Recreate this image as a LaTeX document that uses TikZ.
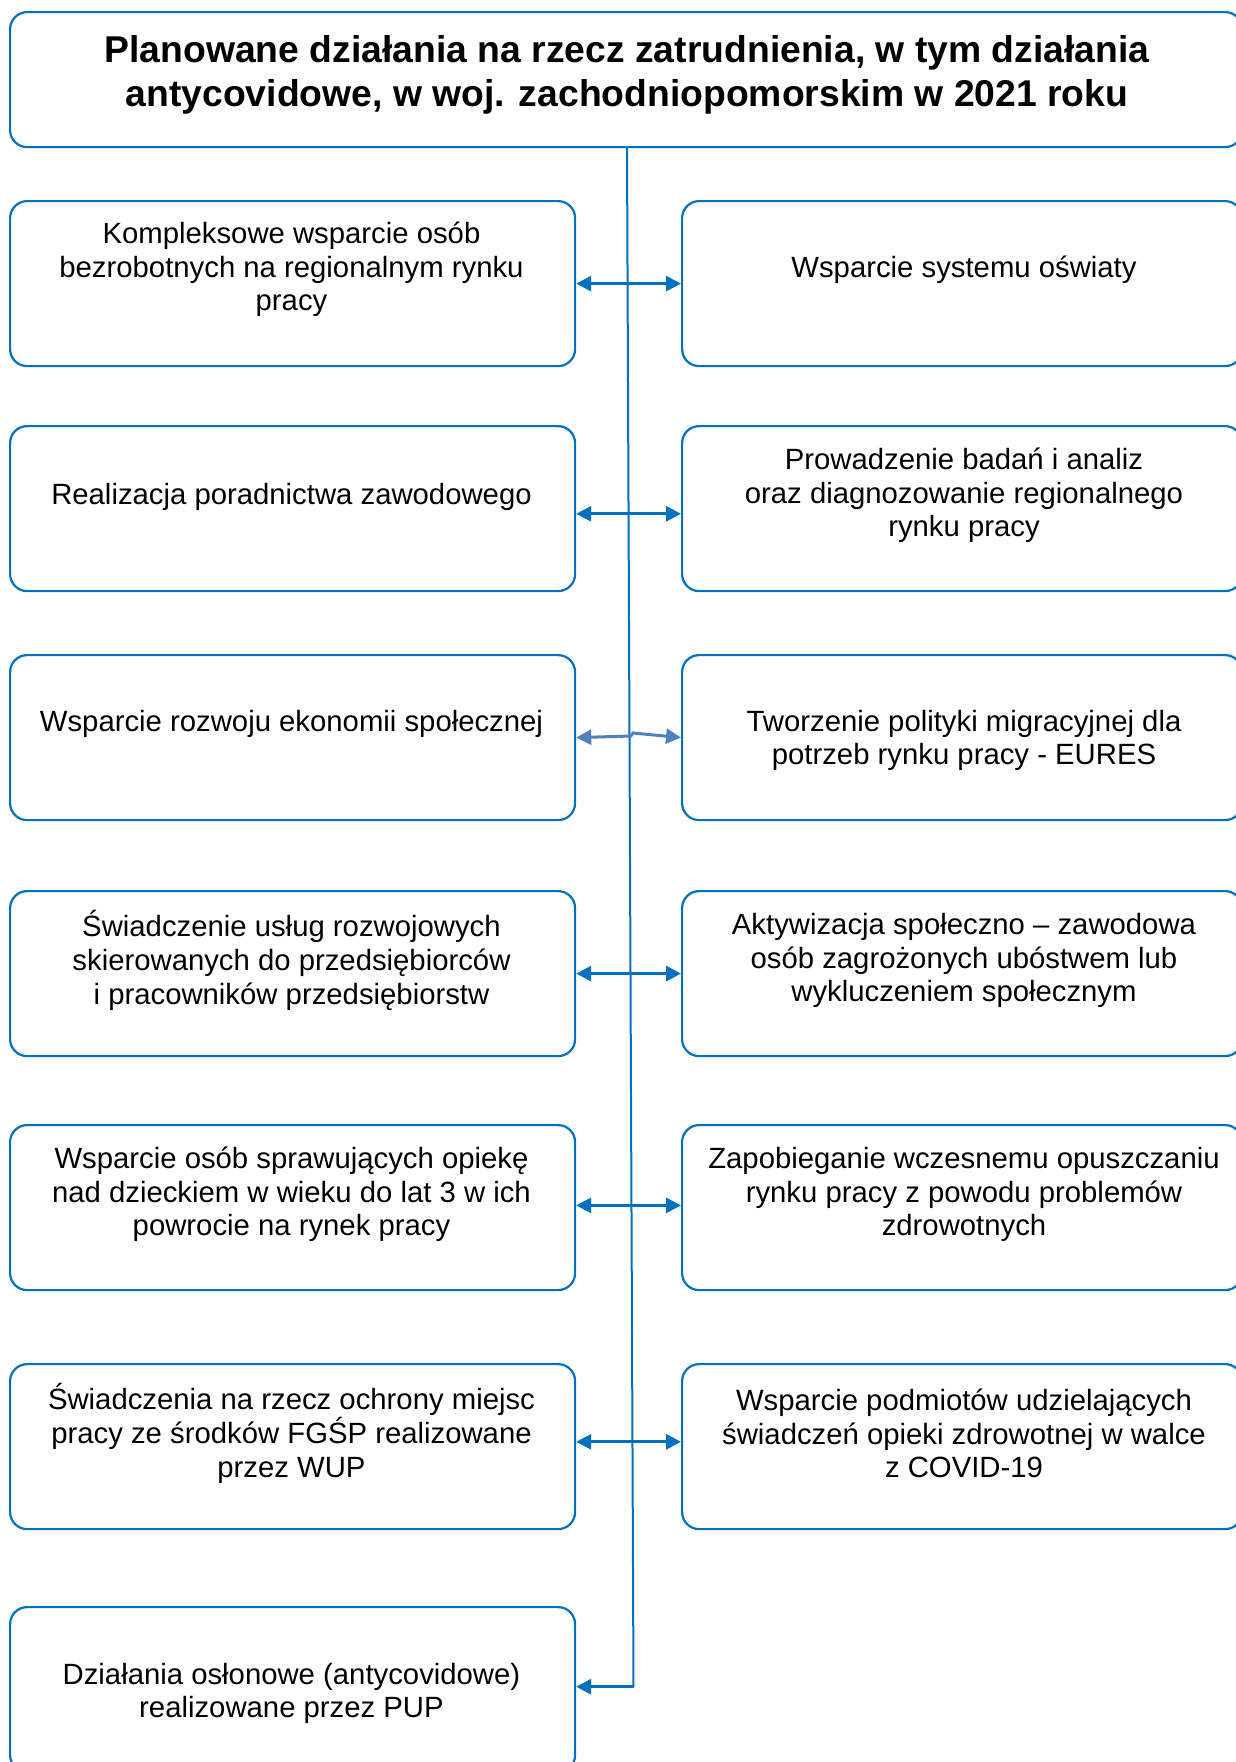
\documentclass[tikz,border=0pt]{standalone}
\usepackage{fontspec}
\setmainfont{Liberation Sans}
\usetikzlibrary{arrows.meta}
\definecolor{bord}{HTML}{0070C0}
\definecolor{lightarr}{HTML}{4F81BD}
\begin{document}
\begin{tikzpicture}[x=1pt,y=-1pt,
  box/.style={draw=bord, line width=2.2pt, rounded corners=17pt, rectangle,
    anchor=north west, inner sep=0pt, minimum height=165pt},
  lbox/.style={box, minimum width=565pt},
  rbox/.style={box, minimum width=560pt},
  txt/.style={align=center, inner sep=0pt, font=\fontsize{29.3}{33.7}\selectfont},
  ttl/.style={align=center, inner sep=0pt, font=\fontsize{37.3}{44}\selectfont\bfseries},
  arr/.style={draw=bord, line width=3pt, {Triangle[length=15pt,width=15pt]}-{Triangle[length=15pt,width=15pt]}},
  arrL/.style={draw=lightarr, line width=3pt, {Triangle[length=15pt,width=15pt]}-{Triangle[length=15pt,width=15pt]}},
  spine/.style={draw=bord, line width=2pt}
]
\useasboundingbox (0,0) rectangle (1235,1762);

% title
\node[box, minimum width=1232pt, minimum height=135pt] (title) at (9,11) {};
\node[ttl] (titletxt) at (627,74.5) {Planowane działania na rzecz zatrudnienia, w tym działania\\antycovidowe, w woj. zachodniopomorskim w 2021 roku};

% boxes
\node[lbox] (L1) at (9,200) {};
\node[rbox] (R1) at (681,200) {};
\node[lbox] (L2) at (9,425) {};
\node[rbox] (R2) at (681,425) {};
\node[lbox] (L3) at (9,654) {};
\node[rbox] (R3) at (681,654) {};
\node[lbox] (L4) at (9,890) {};
\node[rbox] (R4) at (681,890) {};
\node[lbox] (L5) at (9,1124) {};
\node[rbox] (R5) at (681,1124) {};
\node[lbox] (L6) at (9,1363) {};
\node[rbox] (R6) at (681,1363) {};
\node[lbox] (L7) at (9,1606) {};

% texts
\node[txt] (t1) at (291.5,269.5) {Kompleksowe wsparcie osób\\bezrobotnych na regionalnym rynku\\pracy};
\node[txt] (u1) at (964,269.5) {Wsparcie systemu oświaty};
\node[txt] (t2) at (291.5,496.5) {Realizacja poradnictwa zawodowego};
\node[txt] (u2) at (964,495.5) {Prowadzenie badań i analiz\\oraz diagnozowanie regionalnego\\rynku pracy};
\node[txt] (t3) at (291.5,723.5) {Wsparcie rozwoju ekonomii społecznej};
\node[txt] (u3) at (964,740.5) {Tworzenie polityki migracyjnej dla\\potrzeb rynku pracy - EURES};
\node[txt] (t4) at (291.5,960.5) {Świadczenie usług rozwojowych\\skierowanych do przedsiębiorców\\i pracowników przedsiębiorstw};
\node[txt] (u4) at (964,960.5) {Aktywizacja społeczno – zawodowa\\osób zagrożonych ubóstwem lub\\wykluczeniem społecznym};
\node[txt] (t5) at (291.5,1194.5) {Wsparcie osób sprawujących opiekę\\nad dzieckiem w wieku do lat 3 w ich\\powrocie na rynek pracy};
\node[txt] (u5) at (964,1194.5) {Zapobieganie wczesnemu opuszczaniu\\rynku pracy z powodu problemów\\zdrowotnych};
\node[txt] (t6) at (291.5,1433.5) {Świadczenia na rzecz ochrony miejsc\\pracy ze środków FGŚP realizowane\\przez WUP};
\node[txt] (u6) at (964,1433.5) {Wsparcie podmiotów udzielających\\świadczeń opieki zdrowotnej w walce\\z COVID-19};
\node[txt] (t7) at (291.5,1693.5) {Działania osłonowe (antycovidowe)\\realizowane przez PUP};

% spine
\coordinate (spT) at (627,0);
\coordinate (spB) at (633.5,1686.7);
\draw[spine] (title.south -| spT) -- (spB);
\draw[draw=bord, line width=3pt, -{Triangle[length=15pt,width=15pt]}] (spB) -- (L7.east |- spB);

% row arrows
\draw[arr] (L1.east) -- (R1.west);
\draw[arr] ([yshift=-5.2pt]L2.east) -- ([yshift=-5.2pt]R2.west);
\coordinate (k3a) at (631,736);
\coordinate (k3b) at (633,733);
\draw[arrL] (L3.east) -- (k3a) -- (k3b) -- (R3.west);
\draw[arr] (L4.east) -- (R4.west);
\draw[arr] ([yshift=2.2pt]L5.east) -- ([yshift=2.2pt]R5.west);
\draw[arr] ([yshift=4.8pt]L6.east) -- ([yshift=4.8pt]R6.west);
\end{tikzpicture}
\end{document}
